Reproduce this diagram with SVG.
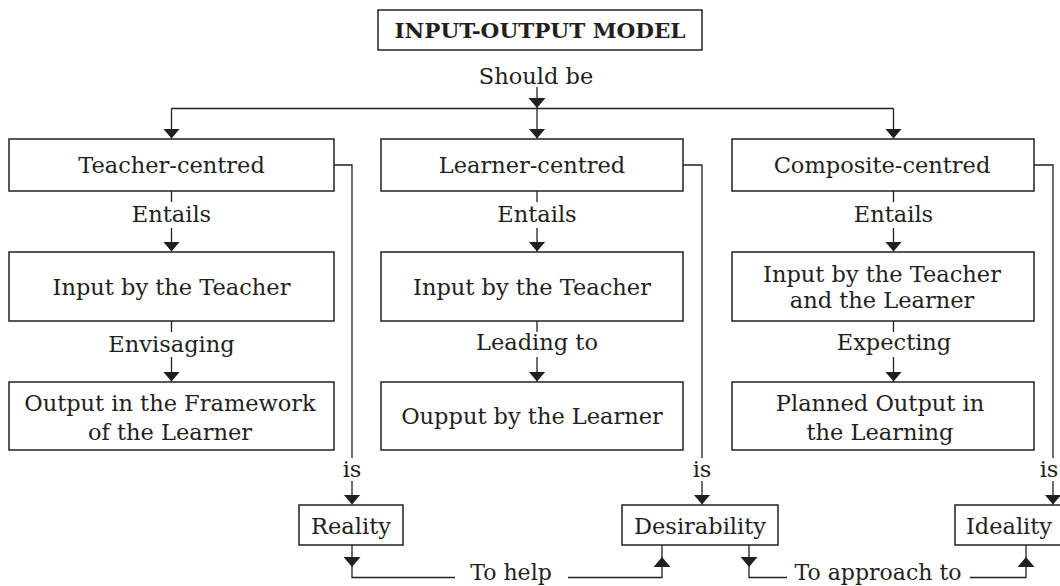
<svg xmlns="http://www.w3.org/2000/svg" width="1060" height="586" viewBox="0 0 1060 586">
<defs>
<marker id="ah" markerUnits="userSpaceOnUse" markerWidth="10" markerHeight="17" viewBox="0 0 10 17" refX="10" refY="8.5" orient="auto">
<path d="M0,0 L10,8.5 L0,17 z" fill="#231f20"/>
</marker>
<style>
rect.box{fill:#ffffff;stroke:#231f20;stroke-width:1.5}
text{font-family:"DejaVu Serif","Liberation Serif",serif;font-size:22.5px;fill:#231f20;text-anchor:middle}
text.title{font-weight:bold;font-size:19.5px}
text.low{font-size:22px}
.ln{fill:none;stroke:#231f20;stroke-width:1.3}
.ar{fill:none;stroke:#231f20;stroke-width:1.3;marker-end:url(#ah)}
</style>
</defs>
<rect width="1060" height="586" fill="#ffffff"/>

<g id="title">
<rect class="box" x="378" y="10" width="324" height="40"/>
<text class="title" x="540" y="38" textLength="291" lengthAdjust="spacingAndGlyphs">INPUT-OUTPUT MODEL</text>
</g>

<g id="connectors">
<text x="536" y="84">Should be</text>
<path class="ar" d="M537,87 V108"/>
<path class="ln" d="M171.5,108.5 H893.5"/>
<path class="ar" d="M171.5,108.5 V138.5"/>
<path class="ar" d="M537,108.5 V138.5"/>
<path class="ar" d="M893.5,108.5 V138.5"/>

<path class="ln" d="M171.5,191 V202"/>
<text x="171.5" y="222">Entails</text>
<path class="ar" d="M171.5,228 V251.5"/>
<path class="ln" d="M171.5,321 V332"/>
<text x="171.5" y="352">Envisaging</text>
<path class="ar" d="M171.5,357 V381.5"/>

<path class="ln" d="M537,191 V202"/>
<text x="537" y="222">Entails</text>
<path class="ar" d="M537,228 V251.5"/>
<path class="ln" d="M537,321 V332"/>
<text x="537" y="350">Leading to</text>
<path class="ar" d="M537,357 V381.5"/>

<path class="ln" d="M893.5,191 V202"/>
<text x="893.5" y="222">Entails</text>
<path class="ar" d="M893.5,228 V251.5"/>
<path class="ln" d="M893.5,321 V332"/>
<text x="894" y="350">Expecting</text>
<path class="ar" d="M893.5,357 V381.5"/>

<path class="ln" d="M334,165 H352 V458"/>
<text x="352" y="477">is</text>
<path class="ar" d="M352,481 V504.5"/>

<path class="ln" d="M683,165 H702 V458"/>
<text x="702" y="477">is</text>
<path class="ar" d="M702,481 V504.5"/>

<path class="ln" d="M1034,165 H1053 V458"/>
<text x="1049" y="477">is</text>
<path class="ar" d="M1053,481 V504.5"/>

<path class="ar" d="M352,545 V567"/>
<path class="ln" d="M352,567 V577.5 H455"/>
<text class="low" x="511" y="580">To help</text>
<path class="ar" d="M568,577.5 H662 V557"/>
<path class="ln" d="M662,557 V545"/>

<path class="ar" d="M749,545 V567"/>
<path class="ln" d="M749,567 V577.5 H787"/>
<text class="low" x="878" y="580">To approach to</text>
<path class="ar" d="M970,577.5 H1026 V557"/>
<path class="ln" d="M1026,557 V545"/>
</g>

<g id="teacher-centred">
<rect class="box" x="9" y="139" width="325" height="52"/>
<text x="171.5" y="173">Teacher-centred</text>
</g>
<g id="teacher-input">
<rect class="box" x="9" y="252" width="325" height="69"/>
<text x="171.5" y="295">Input by the Teacher</text>
</g>
<g id="teacher-output">
<rect class="box" x="9" y="382" width="325" height="68"/>
<text x="170" y="411">Output in the Framework</text>
<text x="170" y="440">of the Learner</text>
</g>

<g id="learner-centred">
<rect class="box" x="381" y="139" width="302" height="52"/>
<text x="532" y="173">Learner-centred</text>
</g>
<g id="learner-input">
<rect class="box" x="381" y="252" width="302" height="69"/>
<text x="532" y="295">Input by the Teacher</text>
</g>
<g id="learner-output">
<rect class="box" x="381" y="382" width="302" height="68"/>
<text x="532" y="424">Oupput by the Learner</text>
</g>

<g id="composite-centred">
<rect class="box" x="732" y="139" width="302" height="52"/>
<text x="882" y="173">Composite-centred</text>
</g>
<g id="composite-input">
<rect class="box" x="732" y="252" width="302" height="69"/>
<text x="882" y="282">Input by the Teacher</text>
<text x="882" y="308">and the Learner</text>
</g>
<g id="composite-output">
<rect class="box" x="732" y="382" width="302" height="68"/>
<text x="880" y="411">Planned Output in</text>
<text x="880" y="440">the Learning</text>
</g>

<g id="reality">
<rect class="box" x="299" y="505" width="104" height="40"/>
<text x="351" y="534">Reality</text>
</g>
<g id="desirability">
<rect class="box" x="622" y="505" width="156" height="40"/>
<text x="700" y="534">Desirability</text>
</g>
<g id="ideality">
<rect class="box" x="955" y="505" width="110" height="40"/>
<text x="1009" y="534">Ideality</text>
</g>
</svg>
